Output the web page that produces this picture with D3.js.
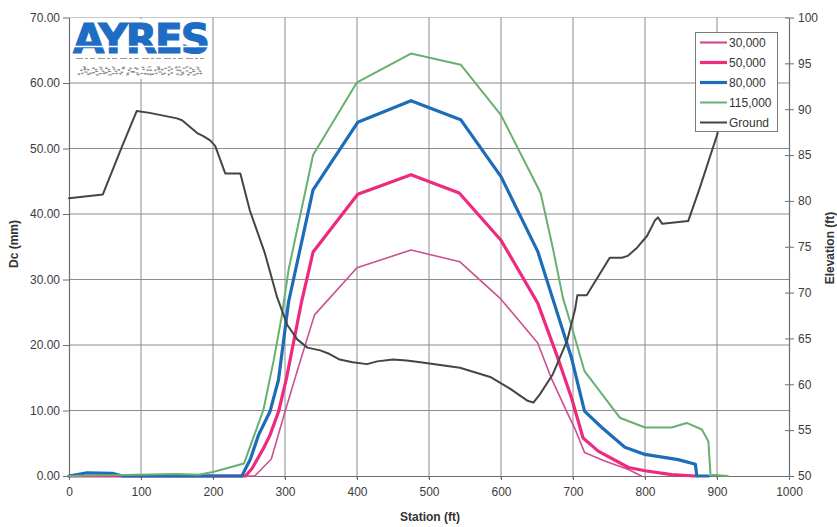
<!DOCTYPE html>
<html>
<head>
<meta charset="utf-8">
<script src="https://cdn.jsdelivr.net/npm/d3@7/dist/d3.min.js"></script>
<style>
  html, body { margin: 0; padding: 0; background: #fff; }
  svg { display: block; font-family: "Liberation Sans", Arial, sans-serif; }
</style>
</head>
<body>
<svg id="chart" width="837" height="527"></svg>
<script>
// Deflection (Dc, mm) along the profile for each axle load, plus ground elevation
const seriesNames = ["30,000", "50,000", "80,000", "115,000", "Ground"];

const stations30k = [0, 240, 258, 281, 300, 318, 341, 400, 475, 543, 600, 651, 670, 691, 702, 716, 744, 777, 795];
const dc30k       = [0, 0, 0, 2.6, 9.8, 16.4, 24.6, 31.8, 34.5, 32.7, 27.0, 20.3, 14.9, 9.9, 7.4, 3.6, 2.3, 1.0, 0];

const stations50k = [0, 245, 254, 270, 279, 291, 302, 323, 339, 401, 475, 542, 600, 651, 679, 698, 714, 735, 777, 800, 837, 870];
const dc50k       = [0, 0, 1.1, 4.2, 6.2, 9.8, 14.9, 26.6, 34.2, 43.0, 46.0, 43.2, 36.0, 26.4, 18.0, 11.9, 5.8, 3.8, 1.3, 0.8, 0.2, 0];

const stations80k = [0, 25, 60, 75, 240, 252, 263, 279, 291, 305, 339, 401, 475, 544, 600, 651, 679, 698, 716, 740, 772, 800, 846, 870, 872, 888];
const dc80k       = [0, 0.5, 0.4, 0, 0, 2.6, 6.2, 9.8, 14.7, 26.6, 43.7, 54.0, 57.3, 54.4, 45.7, 34.3, 24.6, 18.0, 9.9, 7.4, 4.4, 3.3, 2.5, 1.8, 0, 0];

const stations115k = [0, 150, 180, 200, 243, 270, 284, 295, 305, 339, 400, 475, 544, 600, 655, 672, 686, 700, 716, 765, 800, 837, 858, 879, 888, 891, 915];
const dc115k       = [0, 0.3, 0.2, 0.6, 1.9, 10.1, 17.5, 24.1, 31.5, 49.0, 60.1, 64.5, 62.8, 55.1, 43.2, 34.8, 27.2, 22.1, 16.0, 8.9, 7.4, 7.4, 8.1, 7.1, 5.3, 0.2, 0];

const stationsGround = [0, 47, 74, 94, 112, 150, 157, 178, 186, 196, 203, 217, 238, 251, 272, 289, 296, 303, 317, 331, 349, 362, 376, 394, 414, 428, 450, 469, 488, 543, 585, 613, 637, 645, 654, 672, 692, 703, 706, 719, 751, 768, 776, 789, 803, 814, 818, 824, 860, 876, 901];
const elevGround     = [80.3, 80.7, 86.0, 89.8, 89.6, 89.0, 88.8, 87.4, 87.1, 86.6, 86.0, 83.0, 83.0, 79.0, 74.3, 69.5, 68.0, 66.5, 64.9, 64.0, 63.7, 63.3, 62.7, 62.4, 62.2, 62.5, 62.7, 62.6, 62.4, 61.8, 60.8, 59.5, 58.2, 58.0, 58.9, 61.1, 64.8, 68.2, 69.7, 69.7, 73.8, 73.8, 74.0, 74.9, 76.2, 77.9, 78.2, 77.5, 77.8, 81.4, 87.4];

const stationTicks = [0, 100, 200, 300, 400, 500, 600, 700, 800, 900, 1000];
const dcTicks = [0, 10, 20, 30, 40, 50, 60, 70];
const elevTicks = [50, 55, 60, 65, 70, 75, 80, 85, 90, 95, 100];

const colors = ["#cc4f92", "#ee2a7e", "#1d6cb8", "#66b070", "#454545"];
const widths = [1.6, 3.2, 3.2, 2, 2];

const svg = d3.select("#chart");
const plotLeft = 69, plotRight = 789, plotTop = 17.5, plotBottom = 476;

const x = d3.scaleLinear().domain([0, 1000]).range([plotLeft, plotRight]);
const yDc = d3.scaleLinear().domain([0, 70]).range([plotBottom, plotTop]);
const yElev = d3.scaleLinear().domain([50, 100]).range([plotBottom, plotTop]);

const gridColor = "#8c8c8c", axisColor = "#6e6e6e", labelColor = "#3c3c3c";

// grid
const grid = svg.append("g");
grid.selectAll("line.h").data(dcTicks.filter(d => d > 0)).join("line")
  .attr("x1", plotLeft).attr("x2", plotRight)
  .attr("y1", d => yDc(d)).attr("y2", d => yDc(d))
  .attr("stroke", d => d === 70 ? "#c8c8c8" : gridColor).attr("stroke-width", 1);
grid.selectAll("line.v").data(stationTicks.filter(d => d > 0 && d < 1000)).join("line")
  .attr("x1", d => x(d)).attr("x2", d => x(d))
  .attr("y1", plotTop).attr("y2", plotBottom + 3)
  .attr("stroke", gridColor).attr("stroke-width", 1);

// axes
const axL = svg.append("g").attr("transform", `translate(${plotLeft},0)`)
  .call(d3.axisLeft(yDc).tickValues(dcTicks).tickFormat(d3.format(".2f")).tickSize(6).tickSizeOuter(0).tickPadding(3));
const axB = svg.append("g").attr("transform", `translate(0,${plotBottom})`)
  .call(d3.axisBottom(x).tickValues(stationTicks).tickFormat(d3.format("d")).tickSize(4).tickSizeOuter(0).tickPadding(7));
const axR = svg.append("g").attr("transform", `translate(${plotRight},0)`)
  .call(d3.axisRight(yElev).tickValues(elevTicks).tickSize(5).tickSizeOuter(0).tickPadding(4));
axR.selectAll(".tick line").attr("x1", -4);

[axL, axB, axR].forEach(g => {
  g.select(".domain").attr("stroke", axisColor).attr("stroke-width", 1.2);
  g.selectAll(".tick line").attr("stroke", axisColor);
  g.selectAll(".tick text").attr("fill", labelColor).style("font-size", "12px")
    .style("font-family", "'Liberation Sans', Arial, sans-serif");
});

// axis titles
svg.append("text").attr("x", 430).attr("y", 521).attr("text-anchor", "middle")
  .attr("fill", "#333").style("font-size", "12px").style("font-weight", "bold").text("Station (ft)");
svg.append("text").attr("transform", "translate(18,244) rotate(-90)").attr("text-anchor", "middle")
  .attr("fill", "#333").style("font-size", "12px").style("font-weight", "bold").text("Dc (mm)");
svg.append("text").attr("transform", "translate(834,248) rotate(-90)").attr("text-anchor", "middle")
  .attr("fill", "#333").style("font-size", "12px").style("font-weight", "bold").text("Elevation (ft)");

// series
const dcLine = d3.line().x(d => x(d[0])).y(d => yDc(d[1]));
const elevLine = d3.line().x(d => x(d[0])).y(d => yElev(d[1]));
const dcSeries = [
  d3.zip(stations30k, dc30k),
  d3.zip(stations50k, dc50k),
  d3.zip(stations80k, dc80k),
  d3.zip(stations115k, dc115k)
];
const lines = svg.append("g").attr("fill", "none").attr("stroke-linejoin", "round").attr("stroke-linecap", "round");
dcSeries.forEach((pts, i) => {
  lines.append("path").attr("d", dcLine(pts)).attr("stroke", colors[i]).attr("stroke-width", widths[i]);
});
lines.append("path").attr("d", elevLine(d3.zip(stationsGround, elevGround)))
  .attr("stroke", colors[4]).attr("stroke-width", widths[4]);

// company logo block
const logo = svg.append("g");
logo.append("rect").attr("x", 71).attr("y", 19).attr("width", 140).attr("height", 60).attr("fill", "#fff");
logo.append("text").attr("x", 73).attr("y", 53).attr("textLength", 135).attr("lengthAdjust", "spacingAndGlyphs")
  .attr("fill", "#1f6cc4").attr("stroke", "#1f6cc4").attr("stroke-width", 1.2)
  .style("font-size", "41px").style("font-weight", "bold").style("letter-spacing", "-2px")
  .style("font-family", "'DejaVu Sans', 'Liberation Sans', Arial, sans-serif").text("AYRES");
logo.append("line").attr("x1", 72).attr("x2", 210).attr("y1", 46.5).attr("y2", 46.5)
  .attr("stroke", "#fff").attr("stroke-width", 1.3);
logo.append("line").attr("x1", 76).attr("x2", 204).attr("y1", 58.5).attr("y2", 58.5)
  .attr("stroke", "#9a9a9a").attr("stroke-width", 1.2).attr("stroke-dasharray", "7 2 3 2 5 3");
logo.append("text").attr("x", 78).attr("y", 75).attr("textLength", 124).attr("lengthAdjust", "spacingAndGlyphs")
  .attr("fill", "none").attr("stroke", "#8a8a8a").attr("stroke-width", 1.1).attr("stroke-dasharray", "1.5 2.5")
  .style("font-size", "10px").style("font-weight", "bold").text("ASSOCIATES");

// legend
const legend = svg.append("g");
legend.append("rect").attr("x", 695.5).attr("y", 32.5).attr("width", 82).attr("height", 99)
  .attr("fill", "#fff").attr("stroke", "#7a7a7a").attr("stroke-width", 1);
const rowY = d3.scalePoint().domain(seriesNames).range([42.5, 122.5]);
seriesNames.forEach((name, i) => {
  legend.append("line").attr("x1", 700).attr("x2", 727).attr("y1", rowY(name)).attr("y2", rowY(name))
    .attr("stroke", colors[i]).attr("stroke-width", widths[i] + (i === 0 ? 0.6 : 0));
  legend.append("text").attr("x", 729).attr("y", rowY(name)).attr("dy", "0.35em")
    .attr("fill", "#333").style("font-size", "12px").text(name);
});
</script>
</body>
</html>
